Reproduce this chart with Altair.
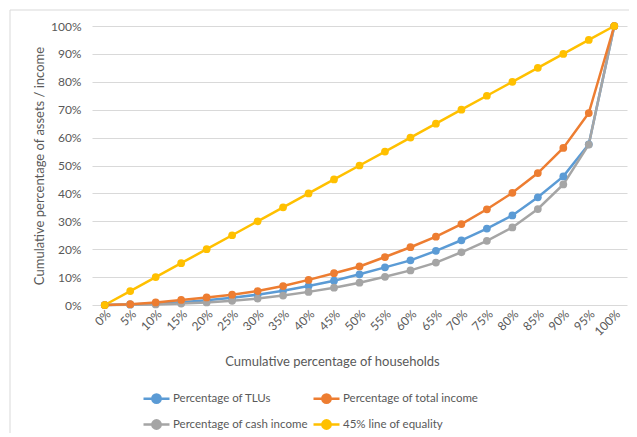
import altair as alt
import pandas as pd

households = ["0%", "5%", "10%", "15%", "20%", "25%", "30%", "35%", "40%", "45%", "50%",
              "55%", "60%", "65%", "70%", "75%", "80%", "85%", "90%", "95%", "100%"]
tlus = [0, 0.2, 0.5, 1.0, 1.7, 2.6, 3.7, 5.1, 6.8, 8.7, 11.0, 13.5, 16.0, 19.4, 23.2,
        27.4, 32.1, 38.6, 46.1, 57.6, 100]
total_income = [0, 0.3, 0.9, 1.8, 2.7, 3.7, 5.0, 6.8, 9.0, 11.4, 13.8, 17.2, 20.7, 24.5,
                29.0, 34.3, 40.2, 47.3, 56.3, 68.8, 100]
cash_income = [0, 0.1, 0.2, 0.5, 0.9, 1.5, 2.3, 3.4, 4.7, 6.2, 8.0, 10.1, 12.4, 15.2,
               18.9, 23.0, 27.8, 34.4, 43.2, 57.5, 100]
equality = [0, 5, 10, 15, 20, 25, 30, 35, 40, 45, 50, 55, 60, 65, 70, 75, 80, 85, 90, 95, 100]

# legend fills column-wise, so this order gives rows: TLUs | total, cash | equality
series_names = ["Percentage of TLUs", "Percentage of cash income",
                "Percentage of total income", "45% line of equality"]
series_colors = ["#5B9BD5", "#A5A5A5", "#ED7D31", "#FFC000"]
series_values = [tlus, cash_income, total_income, equality]

rows = []
for name, vals in zip(series_names, series_values):
    for i, (h, v) in enumerate(zip(households, vals)):
        rows.append({"household": h, "value": v, "series": name, "idx": i})
df = pd.DataFrame(rows)

FONT = "Lato"
GREY = "#595959"

legend_symbol = ("M-1,0L1,0 M-0.32,0 A0.32,0.32 0 1,0 0.32,0 "
                 "A0.32,0.32 0 1,0 -0.32,0 Z")

lines = alt.Chart(df).mark_line(
    strokeWidth=2.5,
    point=alt.OverlayMarkDef(filled=True, size=60, opacity=1),
).encode(
    x=alt.X("household:O", sort=households,
            scale=alt.Scale(type="point", padding=0.5),
            axis=alt.Axis(title="Cumulative percentage of households",
                          labelAngle=-45, ticks=False, domain=False, grid=False,
                          labelFontSize=12, labelColor=GREY, labelFont=FONT,
                          labelPadding=3,
                          titleFontSize=13, titleColor=GREY, titleFont=FONT,
                          titleFontWeight="normal", titleX=240, titleY=56,
                          titleBaseline="middle", titleAlign="center")),
    y=alt.Y("value:Q", scale=alt.Scale(domain=[0, 100], nice=False),
            axis=alt.Axis(title="Cumulative percentage of assets / income",
                          values=[0, 10, 20, 30, 40, 50, 60, 70, 80, 90, 100],
                          labelExpr="datum.value + '%'",
                          ticks=False, domain=False, gridColor="#D9D9D9",
                          labelFontSize=12, labelColor=GREY, labelFont=FONT,
                          labelPadding=11,
                          titleFontSize=13, titleColor=GREY, titleFont=FONT,
                          titleFontWeight="normal", titlePadding=4)),
    color=alt.Color("series:N", sort=series_names,
                    scale=alt.Scale(domain=series_names, range=series_colors),
                    legend=alt.Legend(title=None, orient="none", legendX=50, legendY=358,
                                      columns=2, symbolType=legend_symbol,
                                      symbolSize=676, symbolStrokeWidth=2.5,
                                      labelFontSize=11.5, labelColor=GREY, labelFont=FONT,
                                      labelOffset=2, columnPadding=0, rowPadding=2)),
    order=alt.Order("idx:Q"),
)

border_df = pd.DataFrame({"k": [0]})
border = alt.Chart(border_df).mark_rect(
    filled=False, stroke="#D9D9D9", strokeWidth=1
).encode(
    x=alt.value(-82), x2=alt.value(700), y=alt.value(-16), y2=alt.value(600)
)

chart = alt.layer(border, lines).properties(
    width=535, height=279,
    padding={"left": 84, "top": 18, "right": 2, "bottom": 128},
    autosize=alt.AutoSizeParams(type="none"),
    background="white",
).configure_view(stroke=None)

chart.save("out.html", embed_options={"renderer": "svg", "actions": False})
